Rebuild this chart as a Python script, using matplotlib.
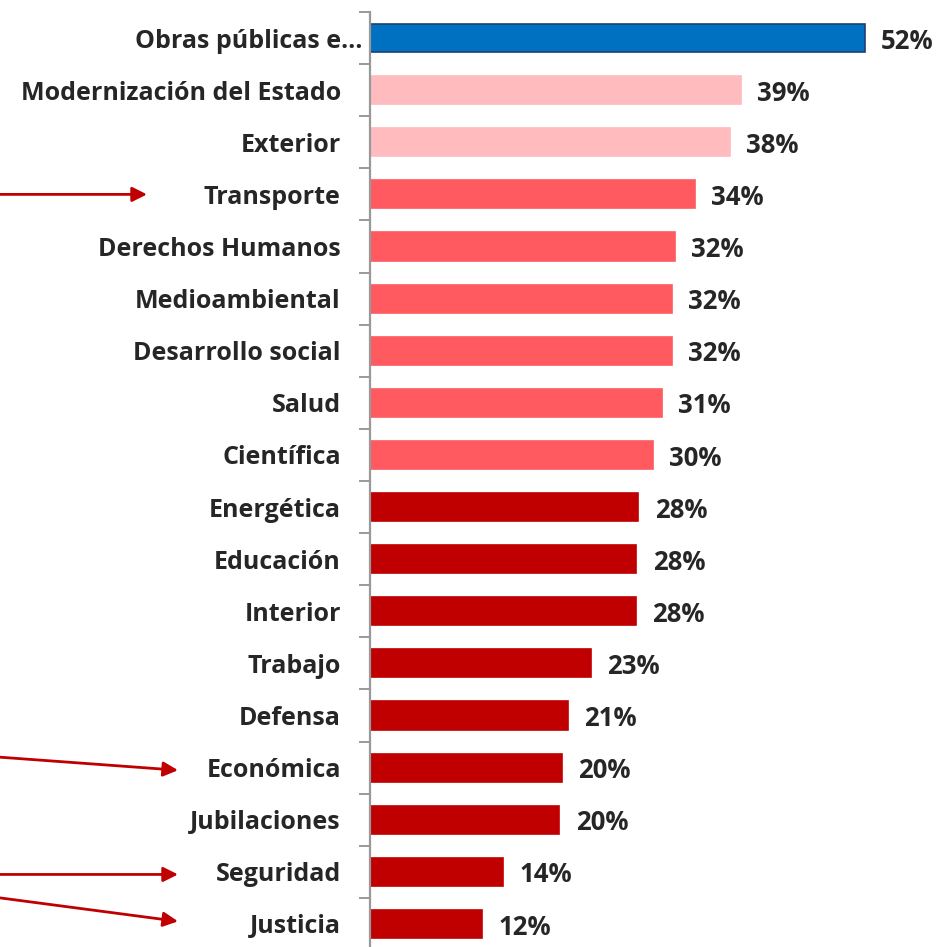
import numpy as np
import matplotlib.pyplot as plt
from matplotlib.transforms import blended_transform_factory, ScaledTranslation

# --- DATA ---
categories = ['Obras públicas e…', 'Modernización del Estado', 'Exterior', 'Transporte',
              'Derechos Humanos', 'Medioambiental', 'Desarrollo social', 'Salud',
              'Científica', 'Energética', 'Educación', 'Interior', 'Trabajo',
              'Defensa', 'Económica', 'Jubilaciones', 'Seguridad', 'Justicia']
# bar lengths (labels are rounded)
values = [52.0, 39.0, 37.8, 34.1, 32.0, 31.7, 31.7, 30.7, 29.7, 28.2, 28.0, 27.9,
          23.2, 20.8, 20.2, 19.9, 14.0, 11.8]
colors = ['#0070C0', '#FFBBBE', '#FFBBBE'] + ['#FF5A60'] * 6 + ['#C00000'] * 9
edges = ['#1F3F73'] + colors[1:]

# arrows: (start row, end row) – they point at these category labels
arrows = [(3.0, 3.0), (13.8, 14.05), (16.05, 16.05), (16.5, 16.95)]

plt.rcParams['font.family'] = ['Open Sans', 'DejaVu Sans']

fig = plt.figure(figsize=(9.38, 9.47), dpi=100)
ax = fig.add_axes([370 / 938, -3 / 947, 571 / 938, 938 / 947])

y = np.arange(len(categories))
ax.barh(y, values, height=0.54, color=colors, edgecolor=edges, linewidth=1.2)

for yi, v in zip(y, values):
    ax.text(v + 1.7, yi + 0.06, f'{round(v)}%', va='center', ha='left',
            fontsize=18.5, fontweight='bold', color='#262626')

ax.set_xlim(0, 60)
ax.set_ylim(17.5, -0.5)
ax.set_yticks(y)
ax.set_yticklabels(categories, fontsize=18, fontweight='bold', color='#262626')
ax.tick_params(axis='y', which='major', length=0, pad=21)
ax.set_yticks(np.arange(-0.5, 18, 1), minor=True)
ax.tick_params(axis='y', which='minor', length=8, width=1.4, color='#999999')
ax.set_xticks([])

# the truncated first label sits a little further right, touching the axis
lbl = ax.get_yticklabels()[0]
lbl.set_transform(lbl.get_transform() + ScaledTranslation(0.22, 0, fig.dpi_scale_trans))

for s in ['top', 'right', 'bottom']:
    ax.spines[s].set_visible(False)
ax.spines['left'].set_color('#999999')
ax.spines['left'].set_linewidth(1.6)

tr = blended_transform_factory(fig.transFigure, ax.transData)
ends_x = [147 / 938, 178 / 938, 178 / 938, 178 / 938]
for (y0, y1), xe in zip(arrows, ends_x):
    ax.annotate('', xy=(xe, y1), xycoords=tr, xytext=(0, y0), textcoords=tr,
                arrowprops=dict(arrowstyle='-|>', color='#C00000', lw=2,
                                mutation_scale=22, shrinkA=0, shrinkB=0),
                annotation_clip=False)

fig.savefig('out.png', dpi=100)
